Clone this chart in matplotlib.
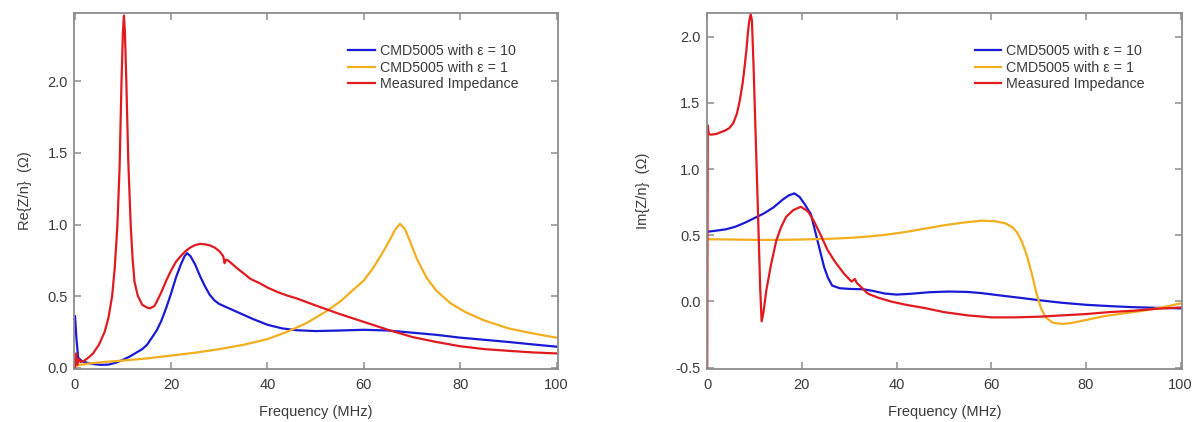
import matplotlib
matplotlib.use("Agg")
import matplotlib.pyplot as plt

plt.rcParams['font.family'] = ['Liberation Sans', 'DejaVu Sans']

# ---------------- data: Re{Z/n} ----------------
re_blue_x = [0.05, 0.35, 0.7, 1.5, 2.5, 4, 5.5, 7, 8.5, 10, 11.5, 13, 14, 15, 16, 17, 18, 19, 20,
             21, 22, 22.8, 23.3, 24, 25, 26, 27, 28, 29, 30, 31, 32, 33, 35, 37, 40, 43, 46, 50,
             55, 60, 65, 70, 75, 80, 85, 90, 95, 100]
re_blue_y = [0.36, 0.2, 0.07, 0.045, 0.035, 0.025, 0.02, 0.022, 0.035, 0.055, 0.08, 0.11, 0.13,
             0.16, 0.21, 0.26, 0.33, 0.42, 0.52, 0.63, 0.72, 0.78, 0.80, 0.78, 0.72, 0.64, 0.57,
             0.51, 0.47, 0.445, 0.43, 0.415, 0.40, 0.37, 0.34, 0.30, 0.275, 0.262, 0.256, 0.26,
             0.265, 0.26, 0.245, 0.23, 0.21, 0.195, 0.18, 0.163, 0.147]

re_orange_x = [0, 1, 3, 6, 10, 15, 20, 25, 30, 35, 40, 44, 48, 52, 55, 58, 60, 62, 64, 65.5, 66.5,
               67.5, 68.5, 69.5, 71, 73, 75, 78, 81, 85, 90, 95, 100]
re_orange_y = [0.01, 0.02, 0.03, 0.04, 0.05, 0.065, 0.085, 0.105, 0.13, 0.16, 0.2, 0.25, 0.31,
               0.39, 0.46, 0.55, 0.61, 0.70, 0.81, 0.90, 0.965, 1.005, 0.97, 0.89, 0.76, 0.63,
               0.54, 0.45, 0.39, 0.33, 0.275, 0.24, 0.21]

re_red_x = [0, 0.3, 0.5, 0.8, 1.2, 2, 3, 3.8, 5, 6.2, 7, 7.75, 8.3, 8.85, 9.3, 9.7, 10.0, 10.2,
            10.4, 10.7, 11.1, 11.6, 12.0, 12.4, 13.1, 14, 15, 15.6, 16.5, 17, 18, 19, 20, 21,
            22, 23, 24, 25, 26, 27, 28, 29, 30, 30.8, 31.1, 31.4, 31.8, 32.5, 33.5, 35, 36.5,
            38.4, 40, 42, 44, 46, 48, 50, 55, 60, 65, 70, 75, 80, 85, 90, 95, 100]
re_red_y = [0.0, 0.1, 0.02, 0.06, 0.04, 0.05, 0.075, 0.1, 0.16, 0.25, 0.35, 0.5, 0.7, 1.0, 1.4,
            2.0, 2.35, 2.46, 2.35, 2.0, 1.45, 1.0, 0.76, 0.6, 0.5, 0.44, 0.42, 0.415, 0.43, 0.46,
            0.53, 0.61, 0.68, 0.74, 0.78, 0.815, 0.84, 0.857, 0.865, 0.862, 0.855, 0.84, 0.815,
            0.78, 0.73, 0.755, 0.75, 0.73, 0.70, 0.66, 0.62, 0.59, 0.56, 0.53, 0.505, 0.485,
            0.46, 0.435, 0.375, 0.32, 0.265, 0.215, 0.18, 0.15, 0.13, 0.118, 0.107, 0.10]

# ---------------- data: Im{Z/n} ----------------
im_blue_x = [0, 2, 4, 6, 8, 10, 12, 14, 16, 17.2, 18.4, 19.5, 20.5, 21.9, 22.6, 23.3, 24, 24.7,
             25.5, 26.4, 28, 30, 33, 35, 37.5, 40, 43, 47, 51, 55, 58, 62, 66, 70, 75, 80, 85,
             90, 95, 100]
im_blue_y = [0.526, 0.535, 0.545, 0.565, 0.595, 0.63, 0.665, 0.71, 0.77, 0.80, 0.816, 0.79, 0.74,
             0.66, 0.56, 0.46, 0.36, 0.26, 0.18, 0.12, 0.1, 0.095, 0.092, 0.08, 0.06, 0.052,
             0.058, 0.07, 0.075, 0.072, 0.063, 0.045, 0.028, 0.01, -0.01, -0.025, -0.035,
             -0.043, -0.048, -0.052]

im_orange_x = [0, 5, 10, 15, 20, 25, 30, 34, 38, 42, 46, 50, 54, 58, 61, 63, 64.5, 65.5, 66.5,
               67.5, 68.5, 69.5, 70.5, 71.5, 73, 75, 77, 80, 84, 88, 92, 96, 100]
im_orange_y = [0.47, 0.468, 0.465, 0.465, 0.468, 0.472, 0.48, 0.49, 0.505, 0.525, 0.55, 0.575,
               0.595, 0.61, 0.605, 0.59, 0.56, 0.52, 0.45, 0.35, 0.22, 0.07, -0.05, -0.12,
               -0.16, -0.17, -0.162, -0.14, -0.11, -0.09, -0.07, -0.045, -0.015]

im_red_x = [0, 0.12, 0.3, 0.6, 1, 2, 3, 3.8, 4.7, 5.5, 6.3, 6.9, 7.5, 7.9, 8.3, 8.6, 8.9, 9.2,
            9.45, 9.8, 10.2, 10.6, 10.9, 11.2, 11.5, 11.9, 12.5, 13.5, 14.6, 15.6, 16.7, 18.2,
            19.8, 21.3, 22.5, 24, 25.4, 27, 28.9, 30.5, 31.2, 31.6, 32.5, 33.9, 36, 38.8, 42,
            46, 50, 55, 60, 65, 70, 75, 80, 85, 90, 95, 100]
im_red_y = [-0.6, 1.33, 1.27, 1.26, 1.26, 1.265, 1.28, 1.29, 1.31, 1.345, 1.42, 1.52, 1.65, 1.77,
            1.9, 2.03, 2.12, 2.17, 2.12, 1.78, 1.3, 0.83, 0.47, 0.1, -0.15, -0.08, 0.085, 0.28,
            0.46, 0.56, 0.64, 0.69, 0.715, 0.68, 0.61, 0.5, 0.39, 0.3, 0.21, 0.15, 0.17, 0.14,
            0.11, 0.06, 0.03, 0.0, -0.025, -0.05, -0.08, -0.105, -0.12, -0.12, -0.115, -0.105,
            -0.095, -0.08, -0.07, -0.055, -0.045]

labels = ["CMD5005 with \u03b5 = 10", "CMD5005 with \u03b5 = 1", "Measured Impedance"]
colors = ["#1a1ad6", "#f2ae1e", "#e01a1f"]
x_ticks = [0, 20, 40, 60, 80, 100]

fig = plt.figure(figsize=(12.02, 4.22), dpi=100)
axL = fig.add_axes([74.3 / 1202, 1 - 369.3 / 422, (558 - 74.3) / 1202, (369.3 - 12.7) / 422])
axR = fig.add_axes([706.7 / 1202, 1 - 369.3 / 422, (1182 - 706.7) / 1202, (369.3 - 12.7) / 422])

txt = "#3a3a3a"
frame = "#8c8c8c"

def style(ax, ylim, yticks, ylabel, lx, legx):
    ax.set_xlim(-0.1, 100.3)
    ax.set_ylim(*ylim)
    ax.set_xticks(x_ticks)
    ax.set_yticks(yticks)
    ax.set_yticklabels([f"{v:.1f}" for v in yticks])
    for s in ax.spines.values():
        s.set_color(frame)
        s.set_linewidth(1.3)
    ax.tick_params(direction="in", length=5, width=1.1, color=frame, labelcolor=txt,
                   labelsize=10.5, top=True, right=True)
    ax.tick_params(axis="x", pad=6.5)
    ax.tick_params(axis="y", pad=4.5)
    ax.set_xlabel("Frequency (MHz)", fontsize=10.5, color=txt, labelpad=9)
    ax.set_ylabel(ylabel, fontsize=10.5, color=txt)
    ax.yaxis.set_label_coords(lx, 0.5)
    leg = ax.legend(loc="upper left", bbox_to_anchor=(legx, 0.911), frameon=False,
                    fontsize=10.3, handlelength=1.85, handletextpad=0.35, labelspacing=0.17,
                    borderpad=0, borderaxespad=0)
    for t in leg.get_texts():
        t.set_color(txt)

lw = 1.6
axL.plot(re_blue_x, re_blue_y, color=colors[0], lw=lw, label=labels[0])
axL.plot(re_orange_x, re_orange_y, color=colors[1], lw=lw, label=labels[1])
axL.plot(re_red_x, re_red_y, color=colors[2], lw=lw, label=labels[2])
style(axL, (-0.011, 2.48), [0.0, 0.5, 1.0, 1.5, 2.0], "Re{Z/n}  (\u03a9)", -0.087, 0.566)

axR.plot(im_blue_x, im_blue_y, color=colors[0], lw=lw, label=labels[0])
axR.plot(im_orange_x, im_orange_y, color=colors[1], lw=lw, label=labels[1])
axR.plot(im_red_x, im_red_y, color=colors[2], lw=lw, label=labels[2])
style(axR, (-0.512, 2.18), [-0.5, 0.0, 0.5, 1.0, 1.5, 2.0], "Im{Z/n}  (\u03a9)", -0.12, 0.564)

fig.savefig("out.png", dpi=100)
